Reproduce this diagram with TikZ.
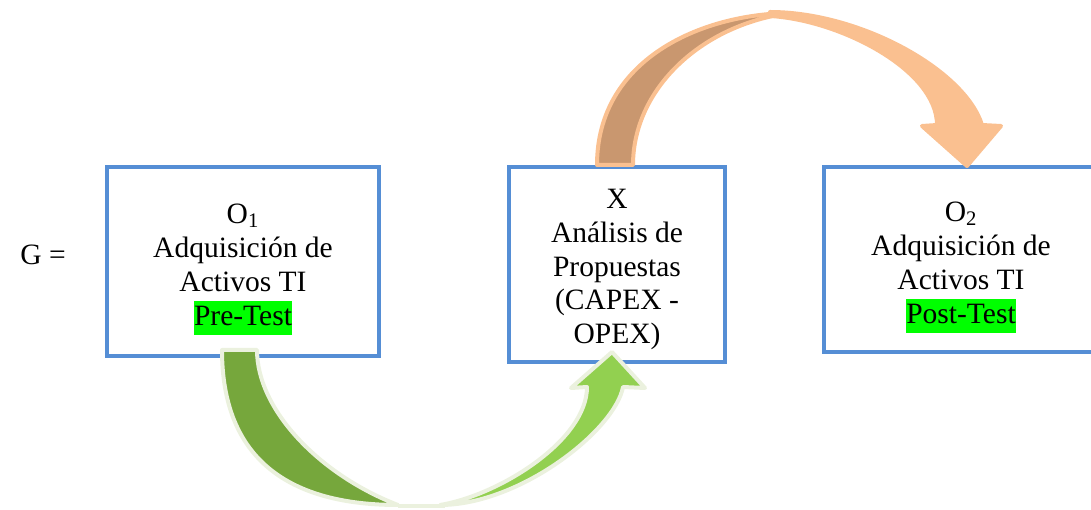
\documentclass[tikz,border=0pt]{standalone}
\usepackage{fontspec}
\setmainfont{Liberation Serif}
\usepackage{tikz}
\usepackage{xcolor}
\usetikzlibrary{positioning, calc}

\definecolor{boxblue}{RGB}{85,142,213}
\definecolor{testgreen}{RGB}{0,255,0}
\definecolor{greendark}{RGB}{118,167,60}
\definecolor{greenlight}{RGB}{146,208,80}
\definecolor{greenrim}{RGB}{235,241,222}
\definecolor{orangedark}{RGB}{201,151,111}
\definecolor{orangelight}{RGB}{250,192,144}

\newcommand{\marktest}[1]{{\setlength{\fboxsep}{0pt}\colorbox{testgreen}{\strut #1}}}

\tikzset{
  stagebox/.style={draw=boxblue, line width=0.08cm},
  stagetext/.style={align=center, font=\fontsize{16.8}{19.3}\selectfont},
  bendfill/.style={line width=0.08cm, line join=round}
}

\begin{document}
\begin{tikzpicture}[x=0.02cm, y=0.02cm]
    \useasboundingbox (0,0) rectangle (1091,510);
    \clip (0,0) rectangle (1091,510);
    % Group and stages
    \node[stagetext] (g) at (43,255) {G =};
    \node[stagebox, minimum width=5.44cm, minimum height=3.78cm] (o1) at (243,248.5) {};
    \node[stagebox, minimum width=4.32cm, minimum height=3.9cm] (x) at (617,245.5) {};
    \node[stagebox, minimum width=5.48cm, minimum height=3.7cm] (o2) at (961,250.5) {};
    \node[stagetext] (o1text) at ($(o1.center)+(0,-8)$)
        {O\textsubscript{1}\\Adquisición de\\Activos TI\\\marktest{Pre-Test}};
    \node[stagetext] (xtext) at ($(x.center)+(0,-5)$)
        {X\\Análisis de\\Propuestas\\(CAPEX -\\OPEX)};
    \node[stagetext] (o2text) at ($(o2.center)+(0,-8)$)
        {O\textsubscript{2}\\Adquisición de\\Activos TI\\\marktest{Post-Test}};
    % Green bent arrow from O1 to X
    \filldraw[bendfill, fill=greendark, draw=greenrim] (222,160)
        .. controls (222,50) and (290,5) .. (398,5)
        .. controls (320,35) and (257,100) .. (257,160) -- cycle;
    \draw[bendfill, greenrim] (398,4) -- (445,4);
    \filldraw[bendfill, fill=greenlight, draw=greenrim] (440,5)
        .. controls (520,5) and (615,80) .. (623,123)
        -- (645,122) -- (612,158) -- (571,122) -- (587,123)
        .. controls (587,70) and (500,15) .. (440,5) -- cycle;
    % Orange bent arrow from X to O2
    \filldraw[bendfill, fill=orangedark, draw=orangelight] (597,345)
        .. controls (597,450) and (700,496) .. (790,497)
        .. controls (700,485) and (633,420) .. (633,345) -- cycle;
    \filldraw[bendfill, fill=orangelight, draw=orangelight] (770,498)
        .. controls (860,498) and (965,440) .. (982,385)
        -- (1001,384) -- (967,344) -- (922,384) -- (937,385)
        .. controls (937,440) and (840,490) .. (770,494) -- cycle;
\end{tikzpicture}
\end{document}
